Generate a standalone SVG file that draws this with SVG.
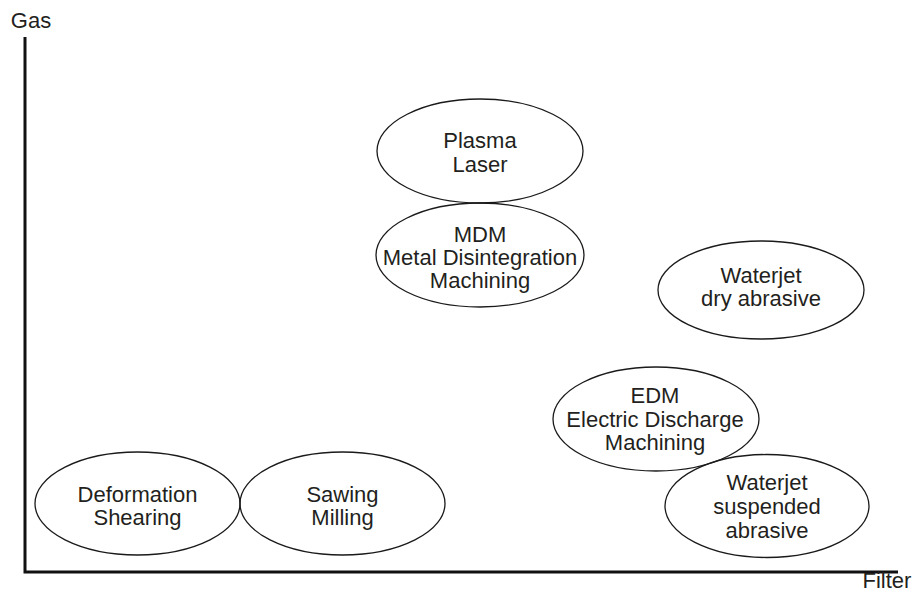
<svg xmlns="http://www.w3.org/2000/svg" width="913" height="597" viewBox="0 0 913 597">
<style>
.n ellipse{fill:none;stroke:#1a1a1a;stroke-width:1.3}
text{font-family:"Liberation Sans",Arial,sans-serif;font-size:22px;fill:#231f20;text-anchor:middle}
.ax{stroke:#111;stroke-width:3;fill:none}
</style>
<rect width="913" height="597" fill="#fff"/>
<g id="axes">
<polyline class="ax" points="25,37 25,572 898,572"/>
<text x="31" y="28">Gas</text>
<text x="887" y="588">Filter</text>
</g>
<g id="plasma" class="n"><ellipse cx="480" cy="151" rx="103" ry="52"/><text x="480" y="148">Plasma</text><text x="480" y="172">Laser</text></g>
<g id="mdm" class="n"><ellipse cx="480" cy="255" rx="104" ry="52"/><text x="480" y="242">MDM</text><text x="480" y="265">Metal Disintegration</text><text x="480" y="288">Machining</text></g>
<g id="waterjet-dry" class="n"><ellipse cx="761" cy="290" rx="103" ry="49"/><text x="761" y="283">Waterjet</text><text x="761" y="306">dry abrasive</text></g>
<g id="edm" class="n"><ellipse cx="656" cy="419" rx="103" ry="52"/><text x="655" y="403">EDM</text><text x="655" y="427">Electric Discharge</text><text x="655" y="450">Machining</text></g>
<g id="waterjet-suspended" class="n"><ellipse cx="767" cy="506" rx="102" ry="51.5"/><text x="767" y="490">Waterjet</text><text x="767" y="514">suspended</text><text x="767" y="538">abrasive</text></g>
<g id="deformation" class="n"><ellipse cx="137.5" cy="503.5" rx="102.5" ry="51.5"/><text x="137.5" y="502">Deformation</text><text x="137.5" y="525">Shearing</text></g>
<g id="sawing" class="n"><ellipse cx="342.5" cy="503.5" rx="102.5" ry="51.5"/><text x="342.5" y="502">Sawing</text><text x="342.5" y="525">Milling</text></g>
<g id="connectors"/>
</svg>
